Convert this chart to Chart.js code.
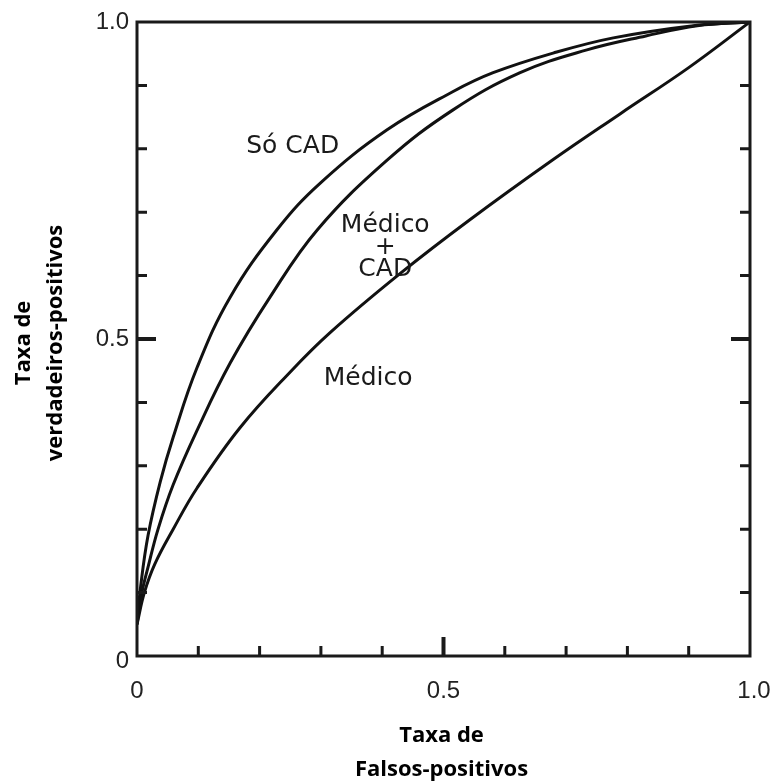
<!DOCTYPE html>
<html>
<head>
<meta charset="utf-8">
<script src="https://cdn.jsdelivr.net/npm/chart.js@4"></script>
<style>
  html, body { margin: 0; padding: 0; background: #fff; }
  #wrap { width: 773px; height: 784px; position: relative; }
</style>
</head>
<body>
<div id="wrap"><canvas id="roc"></canvas></div>
<script>
// ROC curves
var soCadX = [0, 0.006, 0.018, 0.038, 0.059, 0.098, 0.152, 0.228, 0.299, 0.408, 0.515, 0.581, 0.679, 0.777, 0.914, 1];
var soCadY = [0.05, 0.11, 0.19, 0.275, 0.345, 0.455, 0.566, 0.672, 0.746, 0.830, 0.890, 0.920, 0.951, 0.975, 0.995, 1];

var medCadX = [0, 0.008, 0.018, 0.034, 0.059, 0.098, 0.152, 0.217, 0.294, 0.408, 0.515, 0.625, 0.734, 0.830, 0.914, 1];
var medCadY = [0.05, 0.10, 0.14, 0.199, 0.270, 0.356, 0.462, 0.566, 0.672, 0.782, 0.861, 0.920, 0.956, 0.978, 0.994, 1];

var medicoX = [0, 0.012, 0.029, 0.059, 0.098, 0.168, 0.250, 0.315, 0.429, 0.543, 0.679, 0.788, 0.900, 1];
var medicoY = [0.05, 0.10, 0.145, 0.200, 0.265, 0.360, 0.448, 0.510, 0.603, 0.688, 0.783, 0.855, 0.928, 1];

var tickValues = [0, 0.1, 0.2, 0.3, 0.4, 0.5, 0.6, 0.7, 0.8, 0.9, 1];
var xTickLabels = ['0', '0.5', '1.0'];   // at 0, 0.5, 1
var yTickLabels = ['0', '0.5', '1.0'];
var curveLabels = [
  { text: ['Só CAD'], x: 0.254, y: 0.803 },
  { text: ['Médico', '+', 'CAD'], x: 0.405, y: 0.645 },
  { text: ['Médico'], x: 0.377, y: 0.438 }
];

function pts(xs, ys) {
  return xs.map(function (x, i) { return { x: x, y: ys[i] }; });
}

var frame = {
  id: 'frame',
  afterDraw: function (chart) {
    var ctx = chart.ctx, a = chart.chartArea;
    var xs = chart.scales.x, ys = chart.scales.y;
    ctx.save();
    ctx.strokeStyle = '#1a1a1a';
    ctx.lineWidth = 3;
    ctx.strokeRect(a.left, a.top, a.right - a.left, a.bottom - a.top);

    // inward tick marks on left, right and bottom
    tickValues.forEach(function (v) {
      var big = Math.abs(v - 0.5) < 1e-6;
      var len = big ? 19 : 10;
      var py = ys.getPixelForValue(v), px = xs.getPixelForValue(v);
      ctx.lineWidth = big ? 4 : 3;
      ctx.beginPath();
      if (v > 0 && v < 1) {
        ctx.moveTo(a.left, py); ctx.lineTo(a.left + len, py);
        ctx.moveTo(a.right, py); ctx.lineTo(a.right - len, py);
        ctx.moveTo(px, a.bottom); ctx.lineTo(px, a.bottom - len);
      }
      ctx.stroke();
    });

    // tick labels
    ctx.fillStyle = '#222';
    ctx.font = '24px "Liberation Sans", Arial, sans-serif';
    ctx.textBaseline = 'middle';
    ctx.textAlign = 'right';
    [0, 0.5, 1].forEach(function (v, i) {
      var py = ys.getPixelForValue(v);
      ctx.fillText(yTickLabels[i], a.left - 8, v === 0 ? py + 5 : py);
    });
    ctx.textAlign = 'center';
    [0, 0.5, 1].forEach(function (v, i) {
      var px = xs.getPixelForValue(v);
      ctx.fillText(xTickLabels[i], v === 1 ? px + 4 : px, a.bottom + 35);
    });

    // curve labels
    ctx.fillStyle = '#1a1a1a';
    ctx.font = '25px "DejaVu Sans", sans-serif';
    curveLabels.forEach(function (l) {
      var cx = xs.getPixelForValue(l.x), cy = ys.getPixelForValue(l.y);
      var step = 22;
      var y0 = cy - (l.text.length - 1) * step / 2;
      l.text.forEach(function (t, k) { ctx.fillText(t, cx, y0 + k * step); });
    });

    // axis titles
    ctx.fillStyle = '#000';
    ctx.font = 'bold 22px "Open Sans", Lato, sans-serif';
    var midX = (a.left + a.right) / 2 - 2;
    ctx.fillText('Taxa de', midX, 736);
    ctx.fillText('Falsos-positivos', midX, 770);
    ctx.translate(0, 343);
    ctx.rotate(-Math.PI / 2);
    ctx.fillText('Taxa de', 0, 24);
    ctx.fillText('verdadeiros-positivos', 0, 56);
    ctx.restore();
  }
};

function ds(label, xs, ys) {
  return {
    label: label,
    data: pts(xs, ys),
    borderColor: '#111',
    borderWidth: 3,
    pointRadius: 0,
    fill: false,
    tension: 0.4
  };
}

new Chart(document.getElementById('roc'), {
  type: 'line',
  data: {
    datasets: [
      ds('Só CAD', soCadX, soCadY),
      ds('Médico + CAD', medCadX, medCadY),
      ds('Médico', medicoX, medicoY)
    ]
  },
  options: {
    responsive: true,
    maintainAspectRatio: false,
    animation: false,
    layout: { padding: { left: 137, top: 22, right: 23, bottom: 128 } },
    plugins: { legend: { display: false }, tooltip: { enabled: false } },
    scales: {
      x: { type: 'linear', min: 0, max: 1, display: false },
      y: { type: 'linear', min: 0, max: 1, display: false }
    }
  },
  plugins: [frame]
});
</script>
</body>
</html>
